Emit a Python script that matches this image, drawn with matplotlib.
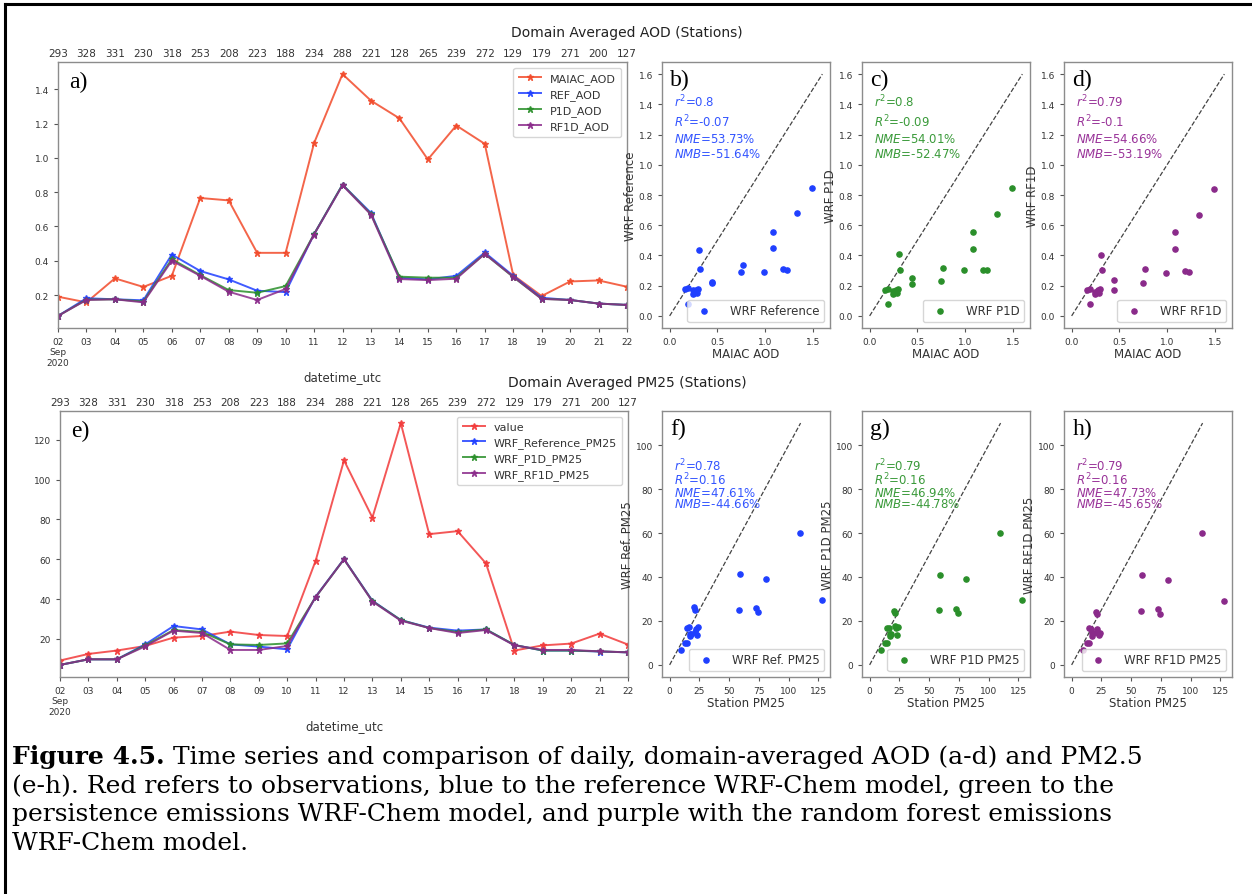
import numpy as np
import pandas as pd
import matplotlib
matplotlib.use('Agg')
import matplotlib.pyplot as plt
from matplotlib.lines import Line2D

# daily domain-averaged values, 02-22 Sep 2020
dates = pd.date_range('2020-09-02', periods=21, freq='D')
day_labels = ['02\nSep\n2020'] + ['%02d' % d for d in range(3, 23)]
n_stations = [293, 328, 331, 230, 318, 253, 208, 223, 188, 234, 288,
              221, 128, 265, 239, 272, 129, 179, 271, 200, 127]

maiac_aod = [0.190, 0.157, 0.297, 0.247, 0.312, 0.766, 0.752, 0.446, 0.446, 1.086, 1.489,
             1.334, 1.231, 0.991, 1.189, 1.082, 0.316, 0.194, 0.279, 0.285, 0.248]
ref_aod = [0.078, 0.181, 0.175, 0.169, 0.436, 0.340, 0.291, 0.225, 0.217, 0.555, 0.844,
           0.679, 0.301, 0.291, 0.312, 0.448, 0.312, 0.184, 0.171, 0.150, 0.142]
p1d_aod = [0.078, 0.173, 0.175, 0.162, 0.409, 0.316, 0.229, 0.213, 0.252, 0.555, 0.844,
           0.672, 0.307, 0.301, 0.301, 0.440, 0.305, 0.178, 0.171, 0.150, 0.142]
rf1d_aod = [0.078, 0.171, 0.175, 0.157, 0.400, 0.312, 0.219, 0.171, 0.235, 0.553, 0.840,
            0.669, 0.293, 0.287, 0.295, 0.440, 0.307, 0.177, 0.171, 0.150, 0.142]

station_pm25 = [9.2, 12.5, 14.2, 16.5, 20.7, 21.5, 23.7, 22.0, 21.5, 59.2, 109.6,
                80.9, 128.3, 72.6, 74.1, 57.9, 14.2, 16.8, 17.7, 22.7, 17.2]
ref_pm25 = [7.0, 9.8, 9.8, 17.3, 26.5, 24.8, 17.3, 16.2, 14.8, 41.2, 60.1,
            39.2, 29.5, 25.7, 24.2, 24.8, 17.0, 14.2, 14.2, 13.7, 13.3]
p1d_pm25 = [7.0, 9.8, 9.8, 16.8, 24.5, 23.5, 17.3, 17.0, 17.8, 41.0, 60.0,
            39.0, 29.5, 25.5, 23.5, 24.8, 17.0, 14.2, 14.2, 13.8, 13.3]
rf1d_pm25 = [7.0, 9.8, 9.8, 16.3, 24.2, 23.0, 14.5, 14.5, 16.5, 41.0, 60.0,
             38.8, 29.2, 25.5, 23.0, 24.5, 16.8, 14.5, 14.5, 13.8, 13.3]

aod_stats = [(0.8, -0.07, 53.73, -51.64), (0.8, -0.09, 54.01, -52.47), (0.79, -0.1, 54.66, -53.19)]
pm25_stats = [(0.78, 0.16, 47.61, -44.66), (0.79, 0.16, 46.94, -44.78), (0.79, 0.16, 47.73, -45.65)]

c_obs_aod = '#f24a2a'
c_obs_pm = '#f23a3a'
c_ref = '#1f3fff'
c_p1d = '#2a8f2a'
c_rf1d = '#8a2a8a'
txt_cols = ['#3355ff', '#3a9a3a', '#993399']

W, H = 1252, 895
fig = plt.figure(figsize=(W / 100, H / 100), dpi=100)
plt.rcParams['font.family'] = 'DejaVu Sans'


def rect(left, top, width, height):
    return [left / W, 1 - (top + height) / H, width / W, height / H]


def style_axes(ax):
    for s in ax.spines.values():
        s.set_color('#8c8c8c')
        s.set_linewidth(1.0)
    ax.tick_params(colors='#555555', labelcolor='#333333', width=0.8, length=3)


def timeseries(ax, series, labels, colors, yticks, panel):
    for y, lab, c in zip(series, labels, colors):
        ax.plot(dates, y, marker='*', markersize=5, lw=1.4, color=c, alpha=0.85, label=lab)
    ax.set_xlim(dates[0], dates[-1])
    ax.set_xticks(dates)
    ax.set_xticklabels(day_labels, fontsize=6.5)
    ax.set_yticks(yticks)
    ax.tick_params(axis='y', labelsize=6.5)
    ax.set_xlabel('datetime_utc', fontsize=8.5, color='#333333', labelpad=2)
    style_axes(ax)
    leg = ax.legend(loc='upper right', fontsize=8, handlelength=2.0, labelspacing=0.45,
                    borderpad=0.5, framealpha=0.8)
    for t in leg.get_texts():
        t.set_color('#333333')
    ax.text(0.02, 0.965, panel, transform=ax.transAxes, fontsize=17,
            family='Liberation Serif', va='top', ha='left')
    top = ax.twiny()
    top.set_xlim(ax.get_xlim())
    top.set_xticks(dates)
    top.set_xticklabels([str(v) for v in n_stations], fontsize=7.5, color='#333333')
    top.tick_params(length=0, pad=3)
    for s in top.spines.values():
        s.set_visible(False)


def scatter(ax, x, y, lim, xticks, yticks, color, tcol, stats, xlabel, ylabel,
            leg_label, panel, text_y, spacing):
    ax.plot([0, lim], [0, lim], ls='--', color='#222222', lw=0.9, alpha=0.85)
    ax.scatter(x, y, s=14, color=color, label=leg_label, zorder=3)
    ax.set_xticks(xticks)
    ax.set_yticks(yticks)
    ax.tick_params(labelsize=6.5)
    ax.set_xlabel(xlabel, fontsize=8.5, color='#333333', labelpad=1)
    ax.set_ylabel(ylabel, fontsize=8.5, color='#333333', labelpad=1)
    style_axes(ax)
    leg = ax.legend(loc='lower right', fontsize=8.5, handletextpad=1.2, borderpad=0.4,
                    framealpha=0.8)
    for t in leg.get_texts():
        t.set_color('#333333')
    r2, R2, nme, nmb = stats
    s = '$r^2$=%g\n$R^2$=%g\n$NME$=%.2f%%\n$NMB$=%.2f%%' % (r2, R2, nme, nmb)
    ax.text(0.07, text_y, s, transform=ax.transAxes, color=tcol, fontsize=8.5,
            va='top', ha='left', linespacing=spacing)
    ax.text(0.05, 0.975, panel, transform=ax.transAxes, fontsize=17,
            family='Liberation Serif', va='top', ha='left')


# AOD row
ax_a = fig.add_axes(rect(58, 63, 569, 266))
timeseries(ax_a, [maiac_aod, ref_aod, p1d_aod, rf1d_aod],
           ['MAIAC_AOD', 'REF_AOD', 'P1D_AOD', 'RF1D_AOD'],
           [c_obs_aod, c_ref, c_p1d, c_rf1d], np.arange(0.2, 1.41, 0.2), 'a)')
ax_a.set_yticklabels(['%.1f' % v for v in np.arange(0.2, 1.41, 0.2)])

aod_models = [ref_aod, p1d_aod, rf1d_aod]
aod_ylab = ['WRF Reference', 'WRF P1D', 'WRF RF1D']
for i, left in enumerate([662, 862, 1064]):
    ax = fig.add_axes(rect(left, 63, 168, 266))
    scatter(ax, maiac_aod, aod_models[i], 1.6, [0.0, 0.5, 1.0, 1.5],
            np.arange(0, 1.61, 0.2), [c_ref, c_p1d, c_rf1d][i], txt_cols[i],
            aod_stats[i], 'MAIAC AOD', aod_ylab[i], aod_ylab[i], 'bcd'[i] + ')',
            0.885, 1.25)
    ax.set_yticklabels(['%.1f' % v for v in np.arange(0, 1.61, 0.2)])

# PM2.5 row
ax_e = fig.add_axes(rect(60, 412, 568, 266))
timeseries(ax_e, [station_pm25, ref_pm25, p1d_pm25, rf1d_pm25],
           ['value', 'WRF_Reference_PM25', 'WRF_P1D_PM25', 'WRF_RF1D_PM25'],
           [c_obs_pm, c_ref, c_p1d, c_rf1d], np.arange(20, 121, 20), 'e)')

pm_models = [ref_pm25, p1d_pm25, rf1d_pm25]
pm_ylab = ['WRF Ref. PM25', 'WRF P1D PM25', 'WRF RF1D PM25']
for i, left in enumerate([662, 862, 1064]):
    ax = fig.add_axes(rect(left, 412, 168, 266))
    scatter(ax, station_pm25, pm_models[i], 110, np.arange(0, 126, 25),
            np.arange(0, 101, 20), [c_ref, c_p1d, c_rf1d][i], txt_cols[i],
            pm25_stats[i], 'Station PM25', pm_ylab[i], pm_ylab[i], 'fgh'[i] + ')',
            0.83, 0.85)

fig.text(627 / W, 1 - 33 / H, 'Domain Averaged AOD (Stations)', ha='center', va='center',
         fontsize=10, color='#222222')
fig.text(627 / W, 1 - 383 / H, 'Domain Averaged PM25 (Stations)', ha='center', va='center',
         fontsize=10, color='#222222')

# caption
cap_font = 'DejaVu Serif'
cap_size = 18
cap_lines = [' Time series and comparison of daily, domain-averaged AOD (a-d) and PM2.5',
             '(e-h). Red refers to observations, blue to the reference WRF-Chem model, green to the',
             'persistence emissions WRF-Chem model, and purple with the random forest emissions',
             'WRF-Chem model.']
cap_y = [757, 786, 815, 844]
fig.canvas.draw()
bold = fig.text(12 / W, 1 - cap_y[0] / H, 'Figure 4.5.', fontsize=cap_size, weight='bold',
                family=cap_font, va='center', ha='left')
bb = bold.get_window_extent(renderer=fig.canvas.get_renderer())
fig.text(bb.x1 / W, 1 - cap_y[0] / H, cap_lines[0], fontsize=cap_size,
         family=cap_font, va='center', ha='left')
for line, yy in zip(cap_lines[1:], cap_y[1:]):
    fig.text(12 / W, 1 - yy / H, line, fontsize=cap_size, family=cap_font,
             va='center', ha='left')

# frame lines on the top and left edges
fig.add_artist(Line2D([5 / W, 1], [1 - 5 / H, 1 - 5 / H], color='black', lw=2.2))
fig.add_artist(Line2D([5 / W, 5 / W], [0, 1 - 5 / H], color='black', lw=2.2))

fig.savefig('out.png', dpi=100)
